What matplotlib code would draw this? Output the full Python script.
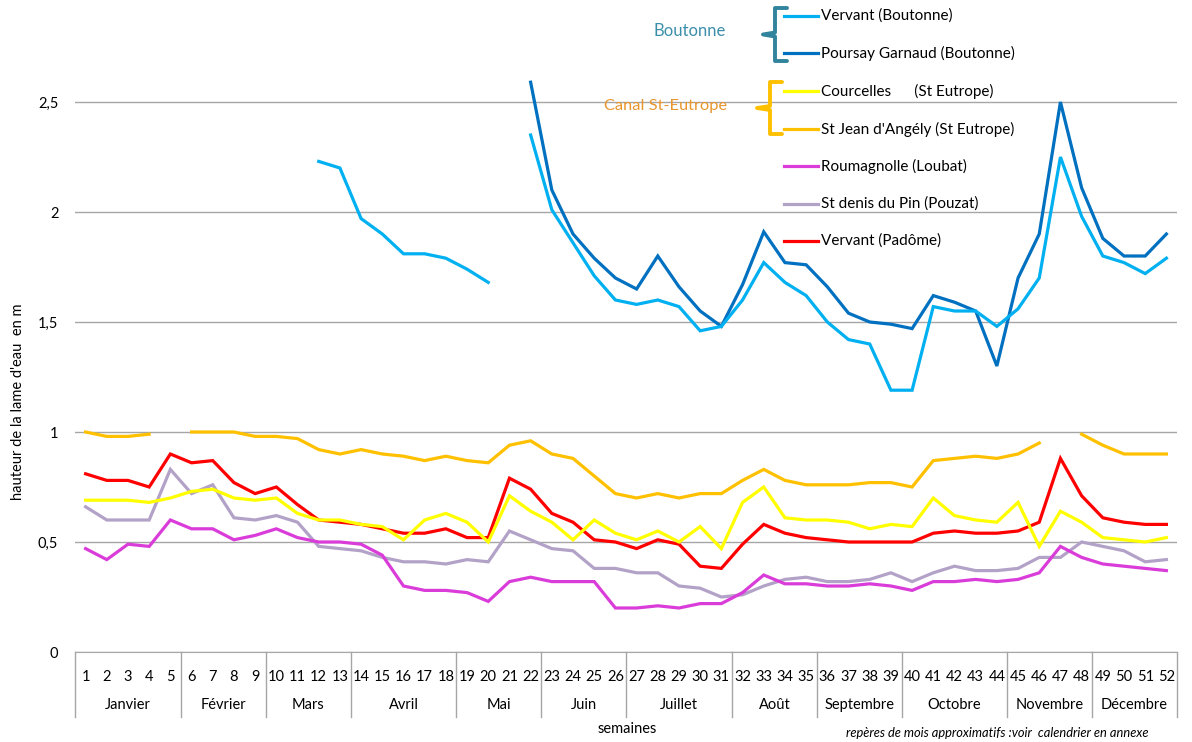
import numpy as np
import matplotlib.pyplot as plt
from matplotlib.lines import Line2D
from matplotlib.transforms import blended_transform_factory

plt.rcParams['font.family'] = ['Lato', 'DejaVu Sans']

weeks = list(range(1, 53))
months = ["Janvier", "Février", "Mars", "Avril", "Mai", "Juin", "Juillet",
          "Août", "Septembre", "Octobre", "Novembre", "Décembre"]
month_last_week = [5, 9, 13, 18, 22, 26, 31, 35, 39, 44, 48, 52]

N = None
vervant_boutonne = [N, N, N, N, N, N, N, N, N, N, N,
                    2.23, 2.20, 1.97, 1.90, 1.81, 1.81, 1.79, 1.74, 1.68, N,
                    2.35, 2.01, 1.86, 1.71, 1.60, 1.58, 1.60, 1.57, 1.46, 1.48,
                    1.60, 1.77, 1.68, 1.62, 1.50, 1.42, 1.40, 1.19, 1.19, 1.57,
                    1.55, 1.55, 1.48, 1.56, 1.70, 2.25, 1.98, 1.80, 1.77, 1.72, 1.79]
poursay_garnaud = [N, N, N, N, N, N, N, N, N, N, N, N, N, N, N, N, N, N, N, N, N,
                   2.59, 2.10, 1.90, 1.79, 1.70, 1.65, 1.80, 1.66, 1.55, 1.48,
                   1.67, 1.91, 1.77, 1.76, 1.66, 1.54, 1.50, 1.49, 1.47, 1.62,
                   1.59, 1.55, 1.30, 1.70, 1.90, 2.50, 2.11, 1.88, 1.80, 1.80, 1.90]
courcelles = [0.69, 0.69, 0.69, 0.68, 0.70, 0.73, 0.74, 0.70, 0.69, 0.70,
              0.63, 0.60, 0.60, 0.58, 0.57, 0.51, 0.60, 0.63, 0.59, 0.50,
              0.71, 0.64, 0.59, 0.51, 0.60, 0.54, 0.51, 0.55, 0.50, 0.57,
              0.47, 0.68, 0.75, 0.61, 0.60, 0.60, 0.59, 0.56, 0.58, 0.57,
              0.70, 0.62, 0.60, 0.59, 0.68, 0.48, 0.64, 0.59, 0.52, 0.51, 0.50, 0.52]
st_jean = [1.00, 0.98, 0.98, 0.99, N, 1.00, 1.00, 1.00, 0.98, 0.98,
           0.97, 0.92, 0.90, 0.92, 0.90, 0.89, 0.87, 0.89, 0.87, 0.86,
           0.94, 0.96, 0.90, 0.88, 0.80, 0.72, 0.70, 0.72, 0.70, 0.72,
           0.72, 0.78, 0.83, 0.78, 0.76, 0.76, 0.76, 0.77, 0.77, 0.75,
           0.87, 0.88, 0.89, 0.88, 0.90, 0.95, N, 0.99, 0.94, 0.90, 0.90, 0.90]
roumagnolle = [0.47, 0.42, 0.49, 0.48, 0.60, 0.56, 0.56, 0.51, 0.53, 0.56,
               0.52, 0.50, 0.50, 0.49, 0.44, 0.30, 0.28, 0.28, 0.27, 0.23,
               0.32, 0.34, 0.32, 0.32, 0.32, 0.20, 0.20, 0.21, 0.20, 0.22,
               0.22, 0.27, 0.35, 0.31, 0.31, 0.30, 0.30, 0.31, 0.30, 0.28,
               0.32, 0.32, 0.33, 0.32, 0.33, 0.36, 0.48, 0.43, 0.40, 0.39, 0.38, 0.37]
st_denis = [0.66, 0.60, 0.60, 0.60, 0.83, 0.72, 0.76, 0.61, 0.60, 0.62,
            0.59, 0.48, 0.47, 0.46, 0.43, 0.41, 0.41, 0.40, 0.42, 0.41,
            0.55, 0.51, 0.47, 0.46, 0.38, 0.38, 0.36, 0.36, 0.30, 0.29,
            0.25, 0.26, 0.30, 0.33, 0.34, 0.32, 0.32, 0.33, 0.36, 0.32,
            0.36, 0.39, 0.37, 0.37, 0.38, 0.43, 0.43, 0.50, 0.48, 0.46, 0.41, 0.42]
vervant_padome = [0.81, 0.78, 0.78, 0.75, 0.90, 0.86, 0.87, 0.77, 0.72, 0.75,
                  0.67, 0.60, 0.59, 0.58, 0.56, 0.54, 0.54, 0.56, 0.52, 0.52,
                  0.79, 0.74, 0.63, 0.59, 0.51, 0.50, 0.47, 0.51, 0.49, 0.39,
                  0.38, 0.49, 0.58, 0.54, 0.52, 0.51, 0.50, 0.50, 0.50, 0.50,
                  0.54, 0.55, 0.54, 0.54, 0.55, 0.59, 0.88, 0.71, 0.61, 0.59, 0.58, 0.58]

series = [
    ("Vervant (Boutonne)", vervant_boutonne, "#00B0F0"),
    ("Poursay Garnaud (Boutonne)", poursay_garnaud, "#0070C0"),
    ("Courcelles      (St Eutrope)", courcelles, "#FFFF00"),
    ("St Jean d'Angély (St Eutrope)", st_jean, "#FFC000"),
    ("Roumagnolle (Loubat)", roumagnolle, "#DA3CDA"),
    ("St denis du Pin (Pouzat)", st_denis, "#B3A2C7"),
    ("Vervant (Padôme)", vervant_padome, "#FF0000"),
]

W, H = 1192, 742
fig = plt.figure(figsize=(W / 100, H / 100), dpi=100)
ax = fig.add_axes([75 / W, 1 - 652 / H, (1177 - 75) / W, 652 / H])

# lower series first, blue lines on top
for name, vals, col in series[::-1]:
    y = np.array(vals, dtype=float)
    ax.plot(weeks, y, color=col, lw=2.3, solid_joinstyle='miter', zorder=3)

ax.set_xlim(0.5, 52.5)
ax.set_ylim(0, 652 / 220)
ax.set_yticks([0, 0.5, 1, 1.5, 2, 2.5])
ax.set_yticklabels(["0", "0,5", "1", "1,5", "2", "2,5"], fontsize=10.5)
ax.yaxis.grid(True, color="#A6A6A6", lw=1)
ax.set_axisbelow(True)
ax.set_xticks(weeks)
ax.set_xticklabels([str(w) for w in weeks], fontsize=10.5)
ax.tick_params(axis='both', length=0)
ax.tick_params(axis='x', pad=13)
ax.tick_params(axis='y', pad=12)
for s in ["top", "right", "left"]:
    ax.spines[s].set_visible(False)
ax.spines["bottom"].set_color("#A6A6A6")

# month boxes under the axis
tr = blended_transform_factory(ax.transData, ax.transAxes)
box_bottom = -65 / 652
start = 0
for m, last in zip(months, month_last_week):
    ax.text((start + last) / 2 + 0.5, -53 / 652, m, transform=tr, ha='center',
            va='center', fontsize=10.5)
    start = last
ax.plot([0.5, 0.5], [0, box_bottom], transform=tr, color="#A6A6A6", lw=1, clip_on=False)
for last in month_last_week:
    ax.plot([last + 0.5, last + 0.5], [0, box_bottom], transform=tr,
            color="#A6A6A6", lw=1, clip_on=False)


def px(x, y):
    return x / W, 1 - y / H


fig.text(*px(18, 402), "hauteur de la lame d'eau  en m", rotation=90,
         ha='center', va='center', fontsize=10.5)
fig.text(*px(627, 729), "semaines", ha='center', va='center', fontsize=10.5)
fig.text(*px(997, 733), "repères de mois approximatifs :voir  calendrier en annexe",
         ha='center', va='center', fontsize=9.3, style='italic')

# legend drawn by hand
leg_y = [16, 53, 91, 129, 166, 204, 241]
for (name, vals, col), yy in zip(series, leg_y):
    x0, y0 = px(784, yy)
    x1, _ = px(818, yy)
    fig.add_artist(Line2D([x0, x1], [y0, y0], color=col, lw=2.3))
    fig.text(*px(821, yy), name, ha='left', va='center', fontsize=11)


def brace(xv, top, bot, xr, xl, col):
    mid = (top + bot) / 2
    xs = [xr, xv, xv, xl, xv, xv, xr]
    ys = [top, top, mid - 2, mid, mid + 2, bot, bot]
    pts = [px(a, b) for a, b in zip(xs, ys)]
    fig.add_artist(Line2D([p[0] for p in pts], [p[1] for p in pts], color=col,
                          lw=2.8, solid_joinstyle='round', solid_capstyle='round'))


brace(775, 8, 61, 787, 763, "#31849B")
brace(770, 82, 134, 782, 757, "#FFC000")
fig.text(*px(690, 31), "Boutonne", ha='center', va='center', fontsize=12,
         color="#3C8FAA")
fig.text(*px(666, 106), "Canal St-Eutrope", ha='center', va='center',
         fontsize=11.8, color="#E8962E")

fig.savefig("out.png", dpi=100)
